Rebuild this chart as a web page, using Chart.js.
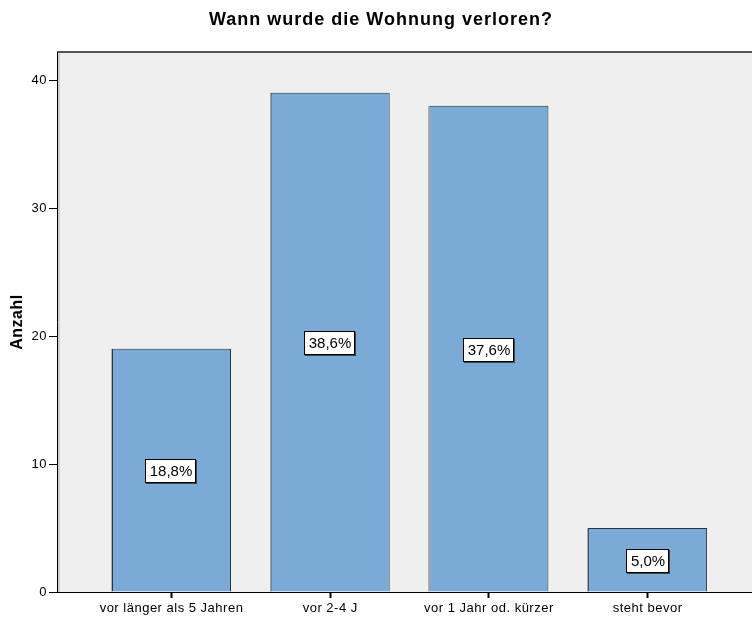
<!DOCTYPE html>
<html>
<head>
<meta charset="utf-8">
<script src="https://cdn.jsdelivr.net/npm/chart.js@4/dist/chart.umd.min.js"></script>
<style>
	html, body { margin: 0; padding: 0; background: #fff; }
	#wrap { width: 752px; height: 621px; }
</style>
</head>
<body>
<div id="wrap"><canvas id="firstChart" width="752" height="621"></canvas></div>
<script>
const title = 'Wann wurde die Wohnung verloren?';
const categories = ['vor länger als 5 Jahren', 'vor 2-4 J', 'vor 1 Jahr od. kürzer', 'steht bevor'];
const counts = [19, 39, 38, 5];
const percents = ['18,8%', '38,6%', '37,6%', '5,0%'];
const yTicks = [0, 10, 20, 30, 40];

const fontFamily = '"Liberation Sans", Arial, sans-serif';

// plot background, top frame and title
const frame = {
	id: 'frame',
	beforeDraw(chart) {
		const { ctx, chartArea: a } = chart;
		ctx.letterSpacing = '0.5px';
		ctx.save();
		ctx.fillStyle = '#efefef';
		ctx.fillRect(a.left, a.top, a.right - a.left, a.bottom - a.top);
		ctx.fillStyle = '#d0d0d0';
		ctx.fillRect(a.left + 1, a.top, 2, a.bottom - a.top);
		ctx.fillStyle = '#555';
		ctx.fillRect(a.left, a.top - 1, a.right - a.left, 2);
		ctx.fillStyle = '#000';
		ctx.font = 'bold 18px ' + fontFamily;
		ctx.letterSpacing = '1px';
		ctx.textAlign = 'center';
		ctx.textBaseline = 'middle';
		ctx.fillText(title, 381, 20);
		ctx.restore();
	},
	beforeDatasetsDraw(chart) {
		const { ctx } = chart;
		ctx.save();
		ctx.fillStyle = '#b0b0b0';
		chart.getDatasetMeta(0).data.forEach((bar) => {
			const left = Math.round(bar.x - bar.width / 2);
			ctx.fillRect(left - 1, bar.y, 1, bar.base - bar.y);
		});
		ctx.restore();
	}
};

// percent boxes in the middle of each bar
const boxes = {
	id: 'boxes',
	afterDatasetsDraw(chart) {
		const { ctx } = chart;
		const meta = chart.getDatasetMeta(0);
		ctx.save();
		ctx.font = '15px ' + fontFamily;
		ctx.letterSpacing = '0px';
		ctx.textAlign = 'center';
		ctx.textBaseline = 'middle';
		meta.data.forEach((bar, i) => {
			const cx = Math.round(bar.x);
			const cy = Math.round((bar.y + bar.base) / 2) + 1;
			const w = Math.ceil(ctx.measureText(percents[i]).width) + 8;
			const h = 24;
			const x0 = cx - Math.round(w / 2), y0 = cy - h / 2;
			ctx.fillStyle = '#444';
			ctx.fillRect(x0 + 1, y0 + 1, w, h);
			ctx.fillStyle = '#fff';
			ctx.fillRect(x0, y0, w, h);
			ctx.strokeStyle = '#000';
			ctx.lineWidth = 1;
			ctx.strokeRect(x0 + 0.5, y0 + 0.5, w - 1, h - 1);
			ctx.fillStyle = '#000';
			ctx.fillText(percents[i], cx, cy + 1);
		});
		ctx.restore();
	}
};

const ctx = document.getElementById('firstChart');
new Chart(ctx, {
	type: 'bar',
	data: {
		datasets: [{
			data: counts.map((v, i) => ({ x: i, y: v })),
			backgroundColor: '#7baad6',
			borderColor: '#263340',
			borderWidth: 1,
			barPercentage: 0.75,
			categoryPercentage: 1,
		}],
	},
	options: {
		responsive: false,
		animation: false,
		layout: { padding: { top: 52, left: 0, right: 0, bottom: 0 } },
		plugins: { legend: { display: false }, tooltip: { enabled: false } },
		scales: {
			x: {
				type: 'linear',
				offset: false,
				min: -0.7215,
				max: 3.658,
				afterBuildTicks(scale) {
					scale.ticks = categories.map((c, i) => ({ value: i }));
				},
				afterFit(scale) { scale.height = 29; },
				ticks: {
					autoSkip: false,
					maxRotation: 0,
					padding: 3,
					color: '#000',
					font: { family: fontFamily, size: 13 },
					callback: (v) => categories[v],
				},
				grid: { offset: false, drawOnChartArea: false, tickLength: 6, color: '#000', tickWidth: 2 },
				border: { color: '#000', width: 1 },
			},
			y: {
				min: 0,
				max: 42.19,
				afterBuildTicks(scale) {
					scale.ticks = yTicks.map((v) => ({ value: v }));
				},
				afterFit(scale) { scale.width = 57; },
				ticks: {
					padding: 2,
					color: '#000',
					font: { family: fontFamily, size: 13 },
				},
				grid: { drawOnChartArea: false, tickLength: 8, color: '#000' },
				border: { color: '#000', width: 1 },
				title: {
					display: true,
					text: 'Anzahl',
					color: '#000',
					padding: { top: 8, bottom: 0 },
					font: { family: fontFamily, size: 16, weight: 'bold' },
				},
			},
		},
	},
	plugins: [frame, boxes],
});
</script>
</body>
</html>
